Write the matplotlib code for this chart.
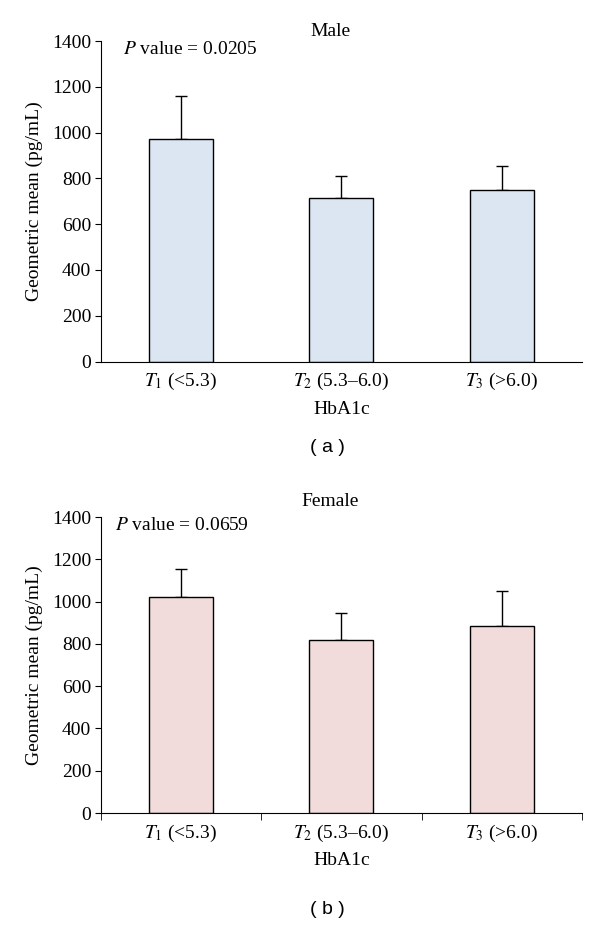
import numpy as np
import matplotlib.pyplot as plt

plt.rcParams['font.family'] = ['Liberation Serif', 'DejaVu Serif']
plt.rcParams['mathtext.fontset'] = 'stix'

# data
categories = ['$T_1$ (<5.3)', '$T_2$ (5.3–6.0)', '$T_3$ (>6.0)']
male_mean = [970, 715, 750]
male_upper = [1160, 810, 855]
female_mean = [1020, 820, 885]
female_upper = [1155, 945, 1050]
yticks = [0, 200, 400, 600, 800, 1000, 1200, 1400]

H = 926.0
panels = [
    # title, means, upper, colour, p text, panel label, axes rect, title y, p y, label y, p x
    ('Male', male_mean, male_upper, '#dce6f2', '0.0205', '( a )',
     [0.168, 1 - 361.5 / H, 0.802, 320.5 / H], 1 - 31 / H, 1 - 49 / H, 1 - 447 / H, 0.205),
    ('Female', female_mean, female_upper, '#f2dcdb', '0.0659', '( b )',
     [0.168, 1 - 813 / H, 0.802, 296 / H], 1 - 502 / H, 1 - 525 / H, 1 - 910 / H, 0.192),
]

fig = plt.figure(figsize=(6, 9.26), dpi=100)
x = np.arange(len(categories))

for title, mean, upper, color, pval, lab, rect, ty, py, ly, px in panels:
    ax = fig.add_axes(rect)
    err = np.array(upper) - np.array(mean)
    ax.bar(x, mean, width=0.4, color=color, edgecolor='black', linewidth=1.0, zorder=2)
    ax.errorbar(x, mean, yerr=[np.zeros(len(err)), err], fmt='none', ecolor='black',
                elinewidth=1.0, capsize=4, capthick=1.0, zorder=1)
    ax.set_xlim(-0.5, 2.5)
    ax.set_ylim(0, 1400)
    ax.set_yticks(yticks)
    ax.set_xticks(x)
    ax.set_xticklabels(categories, fontsize=14)
    ax.tick_params(axis='y', labelsize=14, direction='out', length=4, pad=3)
    ax.tick_params(axis='x', length=0, pad=7)
    if title == 'Female':
        ax.set_xticks([-0.5, 0.5, 1.5, 2.5], minor=True)
        ax.tick_params(axis='x', which='minor', length=5, direction='out')
    for s in ['top', 'right']:
        ax.spines[s].set_visible(False)
    ax.set_ylabel('Geometric mean (pg/mL)', fontsize=14, labelpad=6)
    ax.set_xlabel('HbA1c', fontsize=14, labelpad=6)
    fig.text(0.55, ty, title, ha='center', va='center', fontsize=14)
    fig.text(px, py, '$P$ value = ' + pval, ha='left', va='center', fontsize=14)
    fig.text(0.545, ly, lab, ha='center', va='center', fontsize=14,
             family=['Liberation Sans', 'DejaVu Sans'])

plt.savefig('out.png', dpi=100)
